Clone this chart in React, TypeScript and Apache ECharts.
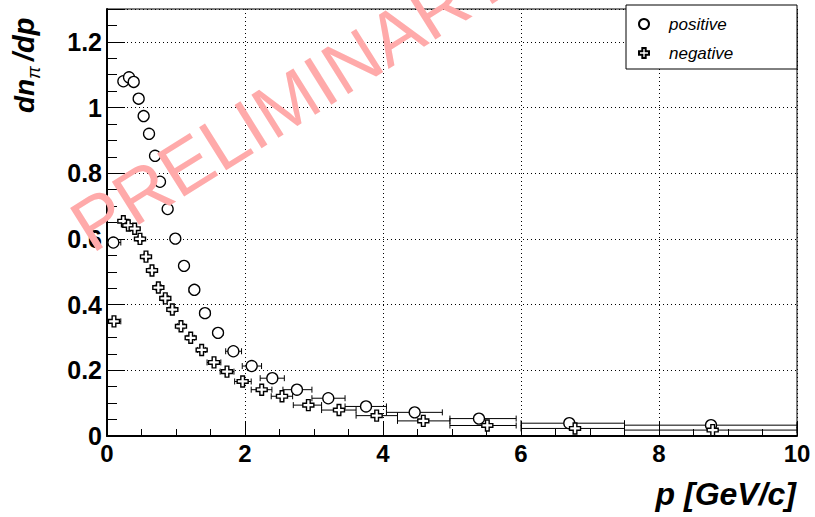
import React, { useEffect, useRef } from 'react';
import * as echarts from 'echarts';

// ---- data ----
const positiveP = [0.092, 0.237, 0.319, 0.387, 0.459, 0.531, 0.609, 0.696, 0.768, 0.879, 0.990, 1.116, 1.266, 1.42, 1.609, 1.831, 2.097, 2.396, 2.753, 3.207, 3.754, 4.459, 5.391, 6.700, 8.754];
const positiveY = [0.589, 1.080, 1.092, 1.078, 1.027, 0.974, 0.920, 0.853, 0.774, 0.691, 0.601, 0.518, 0.445, 0.374, 0.314, 0.258, 0.213, 0.176, 0.141, 0.115, 0.090, 0.072, 0.053, 0.039, 0.033];
const positiveLo = [0.0, 0.21, 0.29, 0.36, 0.43, 0.50, 0.57, 0.65, 0.73, 0.82, 0.93, 1.05, 1.19, 1.35, 1.54, 1.72, 1.96, 2.22, 2.55, 2.97, 3.45, 4.05, 4.97, 6.0, 7.5];
const positiveHi = [0.2, 0.27, 0.35, 0.42, 0.49, 0.56, 0.64, 0.74, 0.80, 0.93, 1.05, 1.18, 1.34, 1.49, 1.68, 1.95, 2.24, 2.57, 2.97, 3.45, 4.05, 4.86, 5.93, 7.5, 10.0];

const negativeP = [0.101, 0.237, 0.309, 0.401, 0.478, 0.565, 0.652, 0.744, 0.845, 0.947, 1.072, 1.213, 1.372, 1.551, 1.739, 1.966, 2.242, 2.536, 2.918, 3.362, 3.908, 4.584, 5.512, 6.783, 8.778];
const negativeY = [0.349, 0.654, 0.641, 0.631, 0.600, 0.546, 0.504, 0.452, 0.419, 0.385, 0.334, 0.299, 0.262, 0.224, 0.196, 0.166, 0.141, 0.121, 0.094, 0.079, 0.062, 0.046, 0.032, 0.023, 0.018];
const negativeLo = [0.0, 0.21, 0.28, 0.37, 0.44, 0.53, 0.61, 0.70, 0.80, 0.90, 1.02, 1.16, 1.31, 1.45, 1.64, 1.85, 2.09, 2.38, 2.70, 3.11, 3.61, 4.21, 4.97, 6.0, 7.5];
const negativeHi = [0.2, 0.27, 0.34, 0.43, 0.52, 0.60, 0.69, 0.79, 0.89, 0.99, 1.12, 1.27, 1.43, 1.65, 1.84, 2.09, 2.39, 2.69, 3.11, 3.61, 4.21, 4.97, 5.93, 7.5, 10.0];

const seriesNames = ['positive', 'negative'];
const xTickLabels = ['0', '2', '4', '6', '8', '10'];
const yTickLabels = ['0', '0.2', '0.4', '0.6', '0.8', '1', '1.2'];
const xTitle = 'p [GeV/c]';
const watermark = 'PRELIMINARY';

const FONT = '"Liberation Sans", Arial, Helvetica, sans-serif';
const CROSS = 'path://M4,0 L8,0 L8,4 L12,4 L12,8 L8,8 L8,12 L4,12 L4,8 L0,8 L0,4 L4,4 Z';

function errRender(params: any, api: any) {
  const y = api.value(2);
  const p1 = api.coord([api.value(0), y]);
  const p2 = api.coord([api.value(1), y]);
  const cap = 3;
  const st = { stroke: '#000', lineWidth: 1 };
  return {
    type: 'group',
    children: [
      { type: 'line', shape: { x1: p1[0], y1: p1[1], x2: p2[0], y2: p2[1] }, style: st },
      { type: 'line', shape: { x1: p1[0], y1: p1[1] - cap, x2: p1[0], y2: p1[1] + cap }, style: st },
      { type: 'line', shape: { x1: p2[0], y1: p2[1] - cap, x2: p2[0], y2: p2[1] + cap }, style: st },
    ],
  };
}

export default function App() {
  const ref = useRef<HTMLDivElement>(null);
  useEffect(() => {
    const chart = echarts.init(ref.current!, null, { renderer: 'svg' });
    const posErr = positiveLo.map((lo, i) => [lo, positiveHi[i], positiveY[i]]);
    const negErr = negativeLo.map((lo, i) => [lo, negativeHi[i], negativeY[i]]);
    const posPts = positiveP.map((p, i) => [p, positiveY[i]]);
    const negPts = negativeP.map((p, i) => [p, negativeY[i]]);

    const option: any = {
      animation: false,
      backgroundColor: '#fff',
      grid: { left: 107, right: 18, top: 9, bottom: 81, show: true, borderColor: '#000', borderWidth: 1, backgroundColor: 'transparent' },
      xAxis: {
        type: 'value', min: 0, max: 10, interval: 2,
        axisLine: { show: true, onZero: false, lineStyle: { color: '#000', width: 2 } },
        axisTick: { show: true, inside: true, length: 14, lineStyle: { color: '#000', width: 1 } },
        minorTick: { show: true, splitNumber: 4, length: 7, lineStyle: { color: '#000', width: 1 } },
        splitLine: { show: true, lineStyle: { color: '#000', type: [1, 3], width: 1 } },
        axisLabel: {
          color: '#000', fontFamily: FONT, fontWeight: 'bold', fontSize: 24, margin: 5,
          formatter: (v: number) => { const i = xTickLabels.indexOf(String(v)); return i >= 0 ? xTickLabels[i] : ''; },
        },
      },
      yAxis: [
        {
          type: 'value', min: 0, max: 1.3, interval: 0.2,
          axisLine: { show: true, onZero: false, lineStyle: { color: '#000', width: 2 } },
          axisTick: { show: true, inside: true, length: 18, lineStyle: { color: '#000', width: 1 } },
          splitLine: { show: true, lineStyle: { color: '#000', type: [1, 3], width: 1 } },
          axisLabel: {
            color: '#000', fontFamily: FONT, fontWeight: 'bold', fontSize: 25, margin: 5,
            formatter: (v: number) => { const s = String(Math.round(v * 10) / 10); return yTickLabels.indexOf(s) >= 0 ? s : ''; },
          },
        },
        {
          type: 'value', min: 0, max: 1.3, interval: 0.05, position: 'left', offset: 0,
          axisLine: { show: false },
          axisTick: { show: true, inside: true, length: 10, lineStyle: { color: '#000', width: 1 } },
          splitLine: { show: false },
          axisLabel: { show: false },
        },
      ],
      legend: {
        data: seriesNames, orient: 'vertical', left: 633, top: 9, z: 11,
        itemWidth: 10, itemHeight: 10, itemGap: 9,
        textStyle: { color: '#000', fontFamily: FONT, fontStyle: 'italic', fontSize: 17, lineHeight: 20, padding: [0, 0, 0, 15] },
      },
      series: [
        { name: 'positive err', type: 'custom', renderItem: errRender, data: posErr, encode: { x: [0, 1], y: 2 }, z: 2, silent: true },
        { name: 'negative err', type: 'custom', renderItem: errRender, data: negErr, encode: { x: [0, 1], y: 2 }, z: 2, silent: true },
        { name: seriesNames[0], type: 'scatter', data: posPts, symbol: 'circle', symbolSize: 11, z: 5,
          itemStyle: { color: '#fff', borderColor: '#000', borderWidth: 1.3, opacity: 1 } },
        { name: seriesNames[1], type: 'scatter', data: negPts, symbol: CROSS, symbolSize: 11, z: 5,
          itemStyle: { color: '#fff', borderColor: '#000', borderWidth: 1.4, opacity: 1 } },
      ],
      graphic: [
        { type: 'rect', z: 10, shape: { x: 626, y: 5, width: 171, height: 64 }, style: { fill: '#fff', stroke: '#000', lineWidth: 1 } },
        {
          type: 'group', x: 38, y: 113, rotation: Math.PI / 2, z: 20,
          children: [
            { type: 'text', x: 0, y: 0, style: { text: 'dn', font: `italic bold 28px ${FONT}`, fill: '#000', verticalAlign: 'bottom', align: 'left' } },
            { type: 'text', x: 34, y: 5, style: { text: 'π', font: `italic 19px ${FONT}`, fill: '#000', verticalAlign: 'bottom', align: 'left' } },
            { type: 'text', x: 52, y: 0, style: { text: '/dp', font: `italic bold 29px ${FONT}`, fill: '#000', verticalAlign: 'bottom', align: 'left' } },
          ],
        },
        { type: 'text', x: 796, y: 494, z: 20, style: { text: xTitle, font: `italic bold 32px ${FONT}`, fill: '#000', align: 'right', verticalAlign: 'middle' } },
        { type: 'text', x: 98, y: 264, z: 100, rotation: 32 * Math.PI / 180, style: { text: watermark, font: `74px ${FONT}`, fill: '#ffaaaa', align: 'left', verticalAlign: 'bottom' } },
      ],
    };
    chart.setOption(option);
    return () => chart.dispose();
  }, []);
  return <div ref={ref} style={{ position: 'fixed', left: 0, top: 0, width: 815, height: 517 }} />;
}
